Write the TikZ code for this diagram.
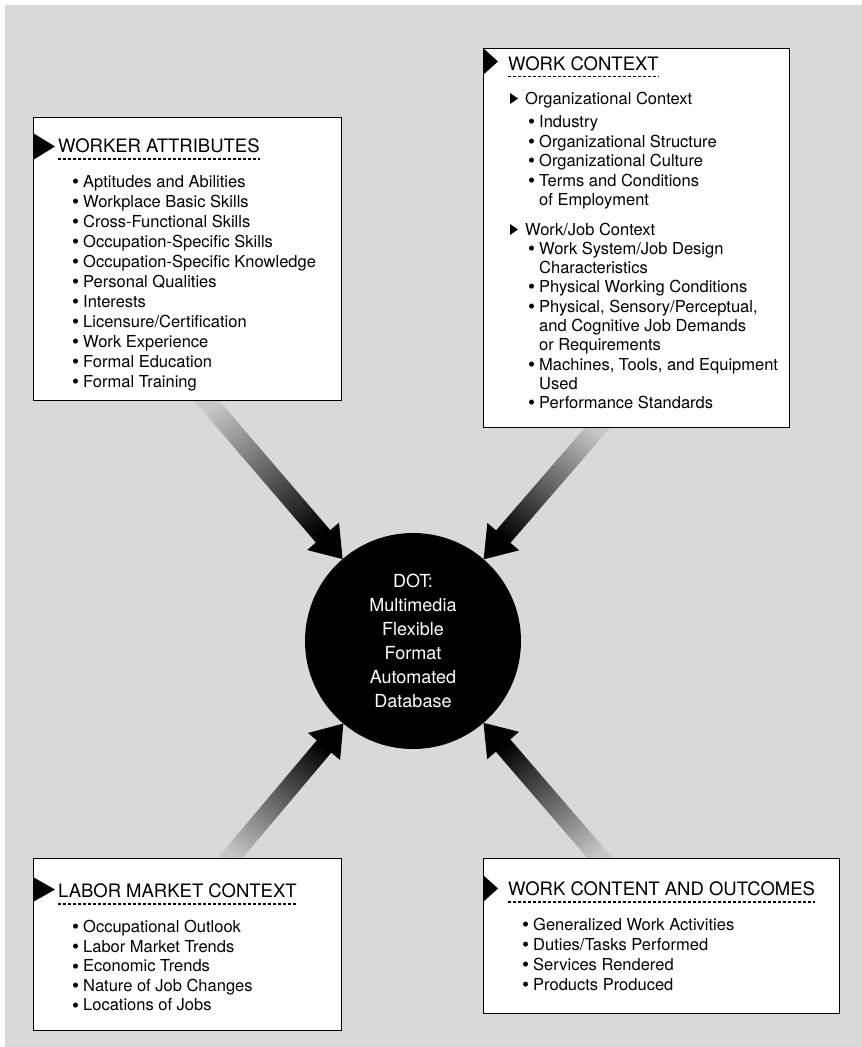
\documentclass[tikz,border=0pt]{standalone}
\usepackage{fontspec}
\setmainfont{TeX Gyre Heros}
\usetikzlibrary{calc,backgrounds}
\definecolor{bg}{RGB}{217,217,217}
\definecolor{arrowlight}{RGB}{200,200,200}
\newcommand\bul{\makebox[5.8pt]{\raisebox{-1.3pt}{\fontsize{20}{20}\selectfont\textbullet}}\ }
\tikzset{
  panel/.style={draw=black, line width=1.2pt, fill=white, inner sep=0pt, anchor=north west},
  ttl/.style={anchor=base west, inner sep=0pt, font=\fontsize{18.5}{22}\selectfont},
  itm/.style={anchor=base west, inner sep=0pt, font=\fontsize{16.5}{20}\selectfont},
  dashline/.style={line width=1.5pt, dash pattern=on 3pt off 2pt},
  marker/.style={fill=black},
  hub/.style={circle, fill=black, minimum size=216pt, inner sep=0pt, text=white, align=center, font=\fontsize{18}{24}\selectfont},
}
\newcommand\fatarrow[3]{%
  \coordinate (fa0) at ($(#1)!-18pt!(#2)$);
  \coordinate (fah) at ($(#2)!30pt!(#1)$);
  \shade[top color=black, bottom color=arrowlight, shading angle=#3]
    ($(fa0)!9.5pt!90:(#2)$) -- ($(fah)!9.5pt!-90:(fa0)$) -- ($(fah)!21pt!-90:(fa0)$) -- (#2)
    -- ($(fah)!21pt!90:(fa0)$) -- ($(fah)!9.5pt!90:(fa0)$) -- ($(fa0)!9.5pt!-90:(#2)$) -- cycle;
}
\begin{document}
\begin{tikzpicture}[x=1pt,y=-1pt]
\useasboundingbox (0,0) rectangle (862,1047);

% panels
\node[panel, minimum width=308pt, minimum height=283pt] (wa) at (33,117) {};
\node[panel, minimum width=306pt, minimum height=379pt] (wc) at (483,48) {};
\node[panel, minimum width=308pt, minimum height=172pt] (lm) at (33,858) {};
\node[panel, minimum width=356pt, minimum height=155pt] (wco) at (483,858) {};

% hub
\node[hub] (dot) at (413,641) {DOT:\\Multimedia\\Flexible\\Format\\Automated\\Database};

% arrow anchors
\coordinate (s1) at ($(wa.south west)+(174,0)$);
\coordinate (s2) at ($(wc.south west)+(114,0)$);
\coordinate (s3) at ($(lm.north west)+(197,0)$);
\coordinate (s4) at ($(wco.north west)+(117,0)$);
\coordinate (t1) at ($(dot.center)!108pt!(s1)$);
\coordinate (t2) at ($(dot.center)!108pt!(s2)$);
\coordinate (t3) at ($(dot.center)!108pt!(s3)$);
\coordinate (t4) at ($(dot.center)!108pt!(s4)$);

\begin{scope}[on background layer]
  \fill[bg] (5,5) rectangle (862,1047);
  \fatarrow{s1}{t1}{-140}
  \fatarrow{s2}{t2}{141}
  \fatarrow{s3}{t3}{-40}
  \fatarrow{s4}{t4}{40}
\end{scope}

% WORKER ATTRIBUTES
\fill[marker] (33,133) -- (55,146.5) -- (33,160) -- cycle;
\node[ttl] (wat) at (58,152.5) {WORKER ATTRIBUTES};
\draw[dashline] ($(wat.base west)+(0,6.5)$) -- ($(wat.base east)+(0,6.5)$);
\foreach \t [count=\i from 0] in {Aptitudes and Abilities, Workplace Basic Skills, Cross-Functional Skills, Occupation-Specific Skills, Occupation-Specific Knowledge, Personal Qualities, Interests, Licensure/Certification, Work Experience, Formal Education, Formal Training}
  \node[itm] (wa\i) at (72.6,187.5+20*\i) {\bul\t};

% WORK CONTEXT
\fill[marker] (483,48) -- (498,61.5) -- (483,75) -- cycle;
\node[ttl] (wct) at (508,70) {WORK CONTEXT};
\draw[dashline] ($(wct.base west)+(0,6.5)$) -- ($(wct.base east)+(0,6.5)$);
\fill[marker] (510,93) -- (518,98.5) -- (510,104) -- cycle;
\node[itm] (wc1) at (525,104) {Organizational Context};
\node[itm] (wc2) at (528.6,127.5) {\bul Industry};
\node[itm] (wc3) at (528.6,147) {\bul Organizational Structure};
\node[itm] (wc4) at (528.6,166.5) {\bul Organizational Culture};
\node[itm] (wc5) at (528.6,186.5) {\bul Terms and Conditions};
\node[itm] (wc6) at (539,205) {of Employment};
\fill[marker] (510,224) -- (518,229.5) -- (510,235) -- cycle;
\node[itm] (wc7) at (525,235) {Work/Job Context};
\node[itm] (wc8) at (528.6,254) {\bul Work System/Job Design};
\node[itm] (wc9) at (539,273) {Characteristics};
\node[itm] (wc10) at (528.6,292.5) {\bul Physical Working Conditions};
\node[itm] (wc11) at (528.6,312) {\bul Physical, Sensory/Perceptual,};
\node[itm] (wc12) at (539,331) {and Cognitive Job Demands};
\node[itm] (wc13) at (539,350.5) {or Requirements};
\node[itm] (wc14) at (528.6,370) {\bul Machines, Tools, and Equipment};
\node[itm] (wc15) at (539,389) {Used};
\node[itm] (wc16) at (528.6,408.5) {\bul Performance Standards};

% LABOR MARKET CONTEXT
\fill[marker] (33,877) -- (55,889.5) -- (33,902) -- cycle;
\node[ttl] (lmt) at (58,897.5) {LABOR MARKET CONTEXT};
\draw[dashline] ($(lmt.base west)+(0,6.5)$) -- ($(lmt.base east)+(0,6.5)$);
\foreach \t [count=\i from 0] in {Occupational Outlook, Labor Market Trends, Economic Trends, Nature of Job Changes, Locations of Jobs}
  \node[itm] (lm\i) at (72.6,932.5+19.6*\i) {\bul\t};

% WORK CONTENT AND OUTCOMES
\fill[marker] (483,875) -- (498,888.5) -- (483,902) -- cycle;
\node[ttl] (wcot) at (508,895.5) {WORK CONTENT AND OUTCOMES};
\draw[dashline] ($(wcot.base west)+(0,6.5)$) -- ($(wcot.base east)+(0,6.5)$);
\foreach \t [count=\i from 0] in {Generalized Work Activities, Duties/Tasks Performed, Services Rendered, Products Produced}
  \node[itm] (wco\i) at (522.6,930.5+20*\i) {\bul\t};
\end{tikzpicture}
\end{document}
